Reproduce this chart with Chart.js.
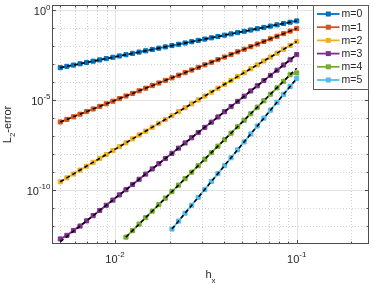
<!DOCTYPE html>
<html>
<head>
<meta charset="UTF-8">
<title>L2-error vs hx</title>
<script src="https://cdn.jsdelivr.net/npm/chart.js"></script>
<style>
    html, body { margin: 0; padding: 0; background: #fff; }
</style>
</head>
<body>
<canvas id="grafico" width="374" height="286"></canvas>
<script>
    // mesh sizes h_x (largest first)
    const hx = [0.1, 0.09201, 0.08467, 0.07790, 0.07168, 0.06596, 0.06069, 0.05585, 0.05139, 0.04729,
        0.04351, 0.04004, 0.03684, 0.03390, 0.03119, 0.02870, 0.02641, 0.02430, 0.02236, 0.02058,
        0.01893, 0.01742, 0.01603, 0.01475, 0.01357, 0.01249, 0.01149, 0.01057, 0.009730, 0.008953,
        0.008238, 0.007580, 0.006975, 0.006418, 0.005905, 0.005434, 0.005];

    const errM0 = [0.2600, 0.2202, 0.1864, 0.1578, 0.1336, 0.1131, 0.09579, 0.08110, 0.06867, 0.05814,
        0.04923, 0.04168, 0.03529, 0.02988, 0.02530, 0.02142, 0.01814, 0.01536, 0.01300, 0.01101,
        0.009320, 0.007891, 0.006682, 0.005657, 0.004790, 0.004056, 0.003434, 0.002907, 0.002462, 0.002084,
        0.001765, 0.001494, 0.001265, 0.001071, 9.071e-4, 7.680e-4, 6.502e-4];

    const errM1 = [9.886e-2, 7.087e-2, 5.080e-2, 3.642e-2, 2.611e-2, 1.872e-2, 1.342e-2, 9.619e-3, 6.895e-3, 4.943e-3,
        3.544e-3, 2.540e-3, 1.821e-3, 1.305e-3, 9.359e-4, 6.709e-4, 4.810e-4, 3.448e-4, 2.472e-4, 1.772e-4,
        1.270e-4, 9.106e-5, 6.528e-5, 4.680e-5, 3.355e-5, 2.405e-5, 1.724e-5, 1.236e-5, 8.860e-6, 6.352e-6,
        4.553e-6, 3.264e-6, 2.340e-6, 1.678e-6, 1.203e-6, 8.621e-7, 6.180e-7];

    const errM2 = [1.862e-2, 1.130e-2, 6.860e-3, 4.164e-3, 2.527e-3, 1.534e-3, 9.311e-4, 5.651e-4, 3.430e-4, 2.082e-4,
        1.264e-4, 7.671e-5, 4.656e-5, 2.826e-5, 1.715e-5, 1.041e-5, 6.319e-6, 3.835e-6, 2.328e-6, 1.413e-6,
        8.577e-7, 5.206e-7, 3.160e-7, 1.918e-7, 1.164e-7, 7.066e-8, 4.289e-8, 2.603e-8, 1.580e-8, 9.590e-9,
        5.821e-9, 3.533e-9, 2.145e-9, 1.302e-9, 7.900e-10, 4.795e-10, 2.911e-10];

    const errM3 = [3.467e-3, 1.782e-3, 9.158e-4, 4.706e-4, 2.419e-4, 1.243e-4, 6.387e-5, 3.283e-5, 1.687e-5, 8.669e-6,
        4.455e-6, 2.290e-6, 1.177e-6, 6.047e-7, 3.108e-7, 1.597e-7, 8.207e-8, 4.218e-8, 2.168e-8, 1.114e-8,
        5.725e-9, 2.942e-9, 1.512e-9, 7.770e-10, 3.993e-10, 2.052e-10, 1.055e-10, 5.420e-11, 2.785e-11, 1.431e-11,
        7.356e-12, 3.780e-12, 1.943e-12, 9.984e-13, 5.623e-13, 3.020e-13, 1.905e-13];

    const errM4 = [3.311e-4, 2.622e-4, 1.141e-4, 4.964e-5, 2.160e-5, 9.398e-6, 4.089e-6, 1.779e-6, 7.743e-7, 3.369e-7,
        1.466e-7, 6.378e-8, 2.775e-8, 1.208e-8, 5.255e-9, 2.286e-9, 9.949e-10, 4.329e-10, 1.884e-10, 8.196e-11,
        3.566e-11, 1.552e-11, 6.752e-12, 2.938e-12, 1.278e-12, 5.562e-13, 2.420e-13];

    const errM5 = [1.622e-4, 5.876e-5, 2.129e-5, 7.714e-6, 2.795e-6, 1.013e-6, 3.670e-7, 1.330e-7, 4.817e-8, 1.745e-8,
        6.324e-9, 2.291e-9, 8.302e-10, 3.008e-10, 1.090e-10, 3.949e-11, 1.431e-11, 5.184e-12, 1.879e-12, 6.806e-13];

    // dashed reference slopes: [h at the small end, h at the large end] and matching errors
    const refH = [[0.005, 0.1], [0.005, 0.1], [0.005, 0.1], [0.005, 0.1], [0.01149, 0.1], [0.02058, 0.1]];
    const refErr = [[6.502e-4, 0.26], [6.180e-7, 9.886e-2], [2.911e-10, 1.862e-2],
        [1.355e-13, 3.467e-3], [2.420e-13, 6.026e-4], [6.806e-13, 1.622e-4]];

    const nomes = ['m=0', 'm=1', 'm=2', 'm=3', 'm=4', 'm=5'];
    const cores = ['#0072BD', '#D95319', '#EDB120', '#7E2F8E', '#77AC30', '#4DBEEE'];
    const series = [errM0, errM1, errM2, errM3, errM4, errM5];

    // axis ticks
    const xMajor = [0.01, 0.1];
    const xMajorLbl = [['10', '-2'], ['10', '-1']];
    const xMinor = [0.005, 0.006, 0.007, 0.008, 0.009, 0.02, 0.03, 0.04, 0.05, 0.06, 0.07, 0.08, 0.09, 0.2];
    const yMajor = [1, 1e-5, 1e-10];
    const yMajorLbl = [['10', '0'], ['10', '-5'], ['10', '-10']];
    const yMinor = [1e-1, 1e-2, 1e-3, 1e-4, 1e-6, 1e-7, 1e-8, 1e-9, 1e-11, 1e-12];

    const FONTE = '"Liberation Sans", Arial, Helvetica, sans-serif';
    const COR_TXT = '#262626';

    const datasets = [];
    series.forEach((err, i) => {
        datasets.push({
            label: nomes[i],
            data: err.map((v, k) => ({ x: hx[k], y: v })),
            borderColor: cores[i],
            backgroundColor: cores[i],
            pointBackgroundColor: cores[i],
            pointBorderColor: cores[i],
            pointStyle: 'rect',
            pointRadius: 2.9,
            pointBorderWidth: 1,
            borderWidth: 1.8,
            showLine: true,
            order: 1
        });
    });
    refErr.forEach((e, i) => {
        datasets.push({
            label: 'ref' + i,
            data: e.map((v, k) => ({ x: refH[i][k], y: v })),
            borderColor: '#000',
            borderWidth: 1.6,
            borderDash: [4, 3],
            pointRadius: 0,
            showLine: true,
            order: 0
        });
    });

    function linha(ctx, x1, y1, x2, y2) {
        ctx.beginPath();
        ctx.moveTo(x1, y1);
        ctx.lineTo(x2, y2);
        ctx.stroke();
    }

    // base + superscript label, anchor: 'right' or 'center'
    function potencia(ctx, base, exp, x, y, anchor) {
        ctx.font = '11px ' + FONTE;
        const wb = ctx.measureText(base).width;
        ctx.font = '8px ' + FONTE;
        const we = ctx.measureText(exp).width;
        let x0 = anchor === 'right' ? x - wb - we : x - (wb + we) / 2;
        ctx.textAlign = 'left';
        ctx.textBaseline = 'middle';
        ctx.fillStyle = COR_TXT;
        ctx.font = '11px ' + FONTE;
        ctx.fillText(base, x0, y + 1.5);
        ctx.font = '8px ' + FONTE;
        ctx.fillText(exp, x0 + wb, y - 3);
    }

    const eixos = {
        id: 'eixos',
        beforeDatasetsDraw(chart) {
            const { ctx, chartArea: a, scales: { x, y } } = chart;
            ctx.save();
            ctx.lineWidth = 1;
            // minor grid (dotted)
            ctx.strokeStyle = '#d4d4d4';
            ctx.setLineDash([1, 2]);
            xMinor.forEach(v => {
                const p = Math.round(x.getPixelForValue(v)) + 0.5;
                linha(ctx, p, a.top, p, a.bottom);
            });
            yMinor.forEach(v => {
                const p = Math.round(y.getPixelForValue(v)) + 0.5;
                linha(ctx, a.left, p, a.right, p);
            });
            // major grid
            ctx.setLineDash([]);
            ctx.strokeStyle = '#e3e3e3';
            xMajor.forEach(v => {
                const p = Math.round(x.getPixelForValue(v)) + 0.5;
                linha(ctx, p, a.top, p, a.bottom);
            });
            yMajor.forEach(v => {
                const p = Math.round(y.getPixelForValue(v)) + 0.5;
                linha(ctx, a.left, p, a.right, p);
            });
            // box and inward ticks
            ctx.strokeStyle = '#4d4d4d';
            const L = Math.round(a.left) + 0.5, R = Math.round(a.right) - 0.5;
            const T = Math.round(a.top) + 0.5, B = Math.round(a.bottom) - 0.5;
            ctx.strokeRect(L, T, R - L, B - T);
            xMajor.concat(xMinor).forEach((v, i) => {
                const p = Math.round(x.getPixelForValue(v)) + 0.5;
                const t = i < xMajor.length ? 3.5 : 2;
                linha(ctx, p, B, p, B - t);
                linha(ctx, p, T, p, T + t);
            });
            yMajor.concat(yMinor).forEach((v, i) => {
                const p = Math.round(y.getPixelForValue(v)) + 0.5;
                const t = i < yMajor.length ? 3.5 : 2;
                linha(ctx, L, p, L + t, p);
                linha(ctx, R, p, R - t, p);
            });
            // tick labels
            xMajor.forEach((v, i) => {
                potencia(ctx, xMajorLbl[i][0], xMajorLbl[i][1], x.getPixelForValue(v), 258, 'center');
            });
            yMajor.forEach((v, i) => {
                potencia(ctx, yMajorLbl[i][0], yMajorLbl[i][1], 50.5, y.getPixelForValue(v), 'right');
            });
            // axis titles
            ctx.fillStyle = COR_TXT;
            ctx.textBaseline = 'middle';
            ctx.textAlign = 'left';
            ctx.font = '11px ' + FONTE;
            const cx = (a.left + a.right) / 2;
            const wh = ctx.measureText('h').width;
            ctx.font = '8px ' + FONTE;
            const wx = ctx.measureText('x').width;
            ctx.font = '11px ' + FONTE;
            ctx.fillText('h', cx - (wh + wx) / 2, 274.5);
            ctx.font = '8px ' + FONTE;
            ctx.fillText('x', cx - (wh + wx) / 2 + wh, 280.5);

            ctx.save();
            ctx.translate(8, (a.top + a.bottom) / 2);
            ctx.rotate(-Math.PI / 2);
            ctx.font = '11px ' + FONTE;
            const wL = ctx.measureText('L').width;
            const wE = ctx.measureText('-error').width;
            ctx.font = '8px ' + FONTE;
            const w2 = ctx.measureText('2').width;
            let sx = -(wL + w2 + wE) / 2;
            ctx.font = '11px ' + FONTE;
            ctx.fillText('L', sx, 0);
            ctx.font = '8px ' + FONTE;
            ctx.fillText('2', sx + wL, 5);
            ctx.font = '11px ' + FONTE;
            ctx.fillText('-error', sx + wL + w2, 0);
            ctx.restore();
            ctx.restore();
        },
        afterDraw(chart) {
            // legend box
            const { ctx } = chart;
            ctx.save();
            ctx.fillStyle = '#fff';
            ctx.fillRect(313.5, 5.5, 55, 84);
            ctx.strokeStyle = '#5a5a5a';
            ctx.lineWidth = 1;
            ctx.strokeRect(313.5, 5.5, 55, 84);
            nomes.forEach((n, i) => {
                const yy = 14 + 13.2 * i;
                ctx.strokeStyle = cores[i];
                ctx.lineWidth = 1.8;
                linha(ctx, 317, yy, 339.5, yy);
                ctx.fillStyle = cores[i];
                ctx.fillRect(325.8, yy - 2.5, 5, 5);
                ctx.fillStyle = COR_TXT;
                ctx.font = '10.5px ' + FONTE;
                ctx.textAlign = 'left';
                ctx.textBaseline = 'middle';
                ctx.fillText(n, 341.5, yy + 0.5);
            });
            ctx.restore();
        }
    };

    const config = {
        type: 'scatter',
        data: { datasets: datasets },
        options: {
            responsive: false,
            animation: false,
            devicePixelRatio: 1,
            layout: { padding: { top: 1, right: 1, left: 0, bottom: 0 } },
            plugins: { legend: { display: false }, tooltip: { enabled: false } },
            scales: {
                x: {
                    type: 'logarithmic',
                    min: 0.0045,
                    max: 0.25,
                    ticks: { display: false },
                    grid: { display: false },
                    border: { display: false },
                    afterFit(scale) { scale.height = 42; }
                },
                y: {
                    type: 'logarithmic',
                    min: 1e-13,
                    max: 2,
                    ticks: { display: false },
                    grid: { display: false },
                    border: { display: false },
                    afterFit(scale) { scale.width = 52; }
                }
            }
        },
        plugins: [eixos]
    };

    const grafico = new Chart(document.getElementById('grafico'), config);
</script>
</body>
</html>
